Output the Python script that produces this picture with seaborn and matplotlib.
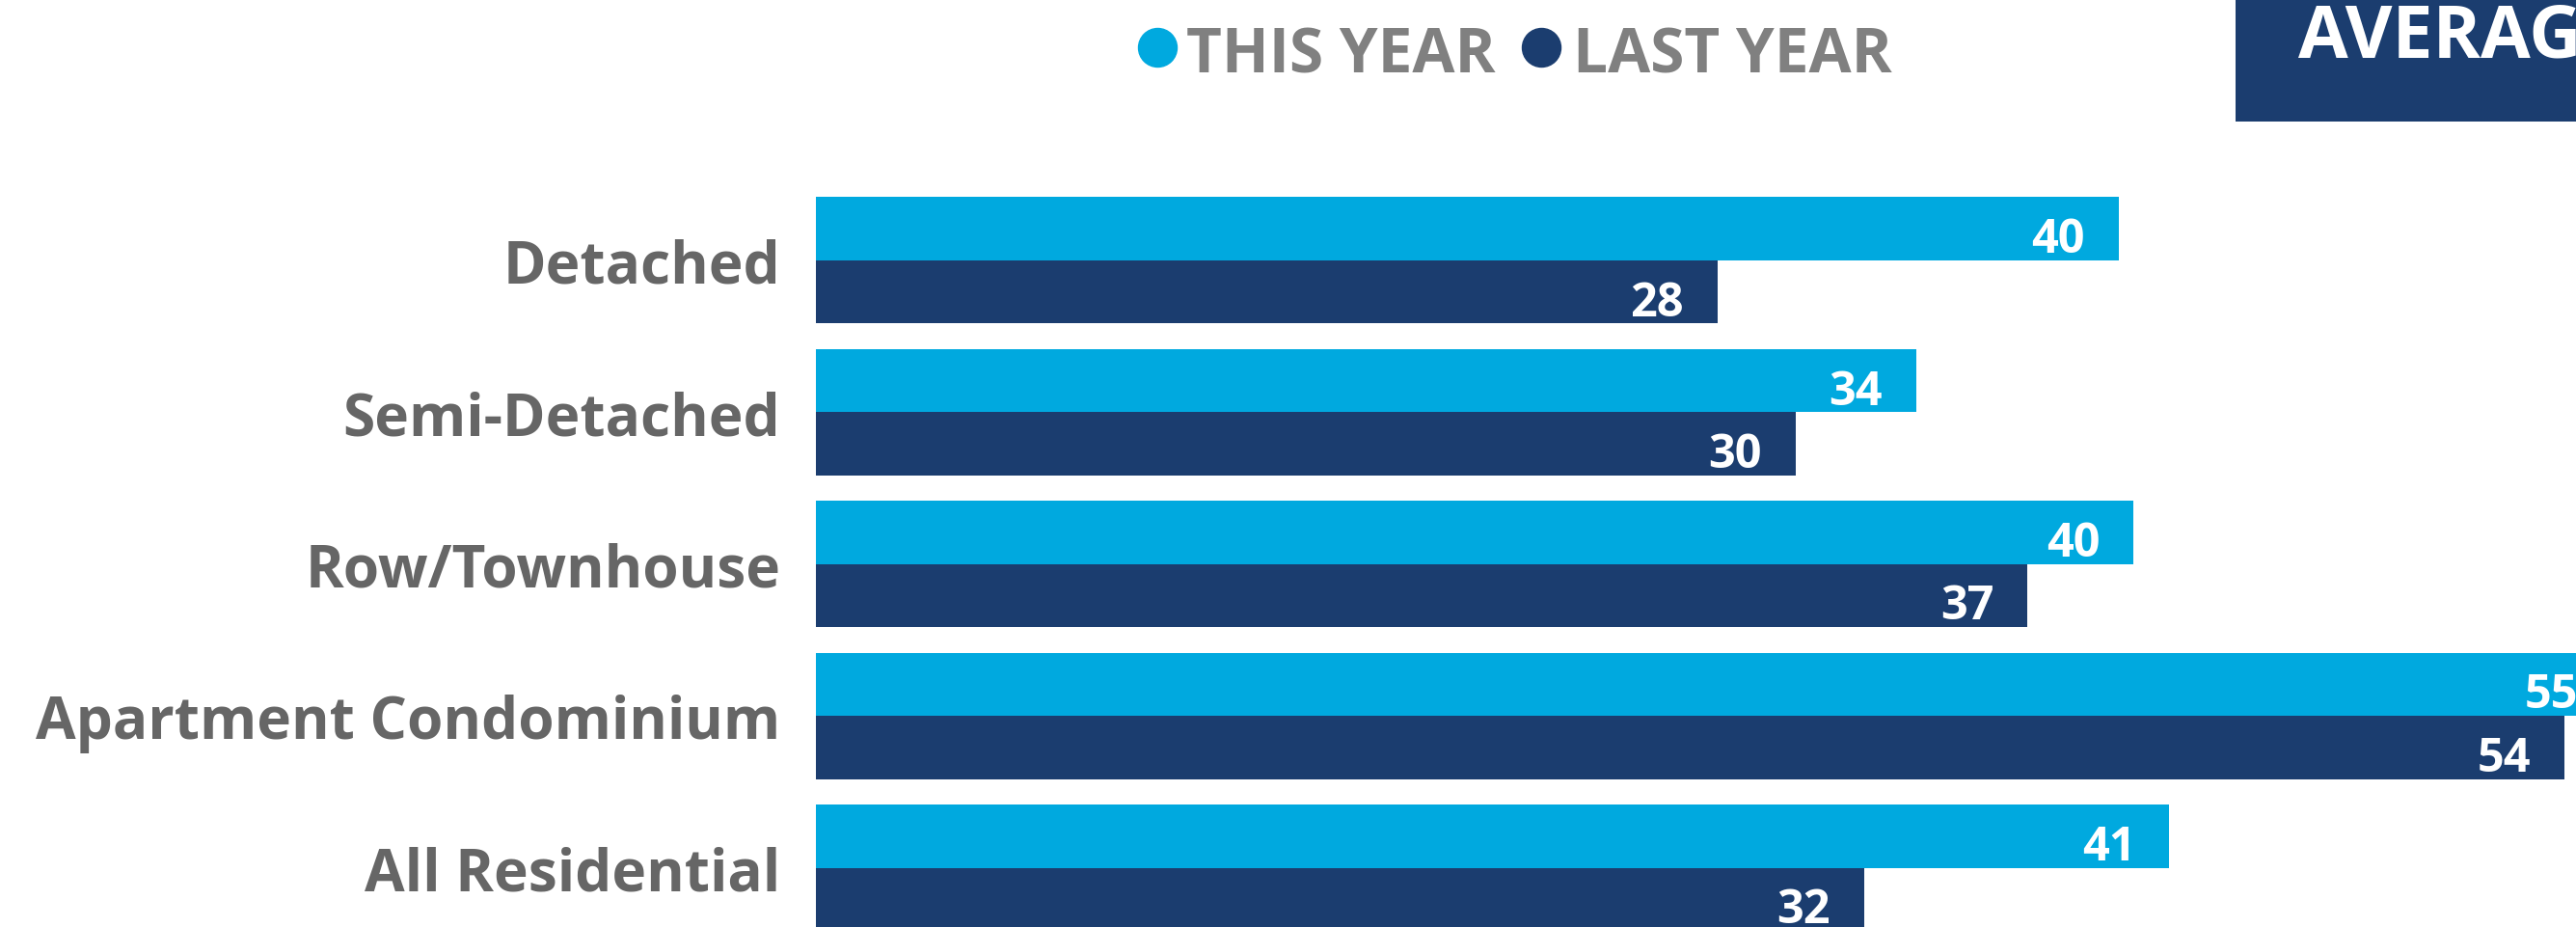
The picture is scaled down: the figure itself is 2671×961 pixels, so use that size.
import matplotlib
matplotlib.use("Agg")
import matplotlib.pyplot as plt
from matplotlib.lines import Line2D
from matplotlib.patches import Rectangle
import seaborn as sns
import pandas as pd

categories = ["Detached", "Semi-Detached", "Row/Townhouse", "Apartment Condominium", "All Residential"]
this_year = [39.9, 33.7, 40.35, 55.0, 41.45]
last_year = [27.6, 30.0, 37.1, 53.55, 32.1]
series_names = ["THIS YEAR", "LAST YEAR"]
title_text = "AVERAGE"

c_this = "#00A9DF"
c_last = "#1B3D6F"
c_cat = "#666666"
c_leg = "#808080"

sns.set_theme(style="white")
plt.rcParams["font.family"] = ["Open Sans", "DejaVu Sans"]

df = pd.DataFrame({
    "category": categories * 2,
    "value": this_year + last_year,
    "period": [series_names[0]] * len(categories) + [series_names[1]] * len(categories),
})

W, H = 2671, 962
fig = plt.figure(figsize=(W / 100, H / 100), dpi=100)
fig.patch.set_facecolor("white")
left_px = 846
ax = fig.add_axes([left_px / W, 0, 1 - left_px / W, 1])
sns.barplot(data=df, x="value", y="category", hue="period", orient="h",
            palette=[c_this, c_last], saturation=1, width=0.832,
            linewidth=0, legend=False, ax=ax)
ax.set_xlim(0, 53.9)
ax.set_ylim(4.39, -1.72)
ax.set_xlabel("")
ax.set_ylabel("")
ax.set_xticks([])
for s in ax.spines.values():
    s.set_visible(False)
ax.tick_params(axis="y", length=0, pad=26.4)
for lab in ax.get_yticklabels():
    lab.set_fontsize(43.5)
    lab.set_fontweight("bold")
    lab.set_color(c_cat)

for cont, vals in zip(ax.containers, [this_year, last_year]):
    for bar, v in zip(cont, vals):
        yc = bar.get_y() + bar.get_height() / 2
        ax.annotate(f"{v:.0f}", (bar.get_width(), yc), xytext=(-25.2, -17.3),
                    textcoords="offset points", ha="right", va="baseline",
                    color="white", fontsize=35, fontweight="bold",
                    annotation_clip=False)

# legend
leg_y = 1 - 50 / H
for cx, tx, col, name in [(1200, 1230, c_this, series_names[0]), (1598, 1631, c_last, series_names[1])]:
    fig.add_artist(Line2D([cx / W], [leg_y], marker="o", markersize=28.8, color=col,
                          linestyle="none", transform=fig.transFigure))
    fig.text(tx / W, 1 - 76 / H, name, ha="left", va="baseline", color=c_leg,
             fontsize=46, fontweight="bold")

# title box (cropped at right edge, as in the reference)
fig.add_artist(Rectangle((2318 / W, 1 - 127 / H), (W - 2318) / W, 127 / H,
                         transform=fig.transFigure, facecolor=c_last, edgecolor="none"))
fig.text(2383 / W, 1 - 59 / H, title_text, ha="left", va="baseline", color="white",
         fontsize=54, fontweight="bold")

fig.savefig("out.png", dpi=100, facecolor="white")
